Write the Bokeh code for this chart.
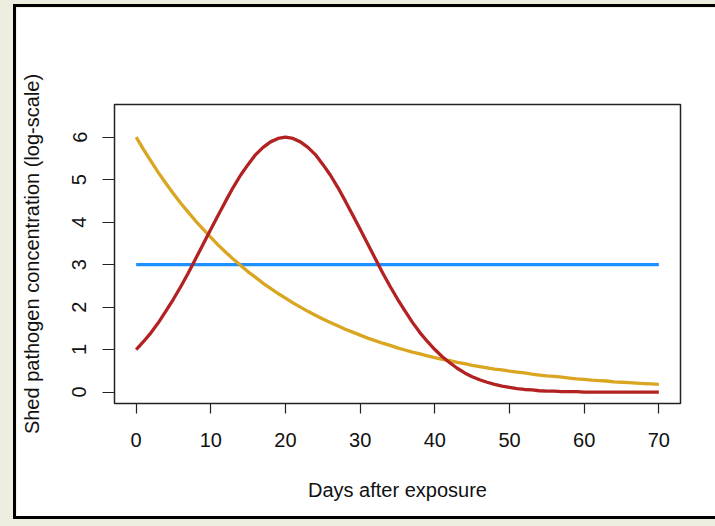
from bokeh.plotting import figure
from bokeh.models import Range1d, FixedTicker
from bokeh.embed import file_html
from bokeh.resources import INLINE

# ---- data ----
days = list(range(0, 71))
shed_peak = [1.00, 1.19, 1.40, 1.64, 1.91, 2.19, 2.49, 2.81, 3.15, 3.49,
             3.83, 4.17, 4.50, 4.82, 5.11, 5.36, 5.59, 5.76, 5.89, 5.97,
             6.00, 5.97, 5.89, 5.76, 5.59, 5.36, 5.11, 4.82, 4.50, 4.17,
             3.83, 3.49, 3.15, 2.81, 2.49, 2.19, 1.91, 1.64, 1.40, 1.19,
             1.00, 0.83, 0.69, 0.56, 0.45, 0.36, 0.29, 0.23, 0.18, 0.14,
             0.11, 0.08, 0.06, 0.05, 0.03, 0.02, 0.02, 0.01, 0.01, 0.01,
             0.00, 0.00, 0.00, 0.00, 0.00, 0.00, 0.00, 0.00, 0.00, 0.00,
             0.00]
shed_decay = [6.00, 5.71, 5.43, 5.16, 4.91, 4.67, 4.44, 4.23, 4.02, 3.83,
              3.64, 3.46, 3.29, 3.13, 2.98, 2.83, 2.70, 2.56, 2.44, 2.32,
              2.21, 2.10, 2.00, 1.90, 1.81, 1.72, 1.64, 1.56, 1.48, 1.41,
              1.34, 1.27, 1.21, 1.15, 1.10, 1.04, 0.99, 0.94, 0.90, 0.85,
              0.81, 0.77, 0.74, 0.70, 0.67, 0.63, 0.60, 0.57, 0.54, 0.52,
              0.49, 0.47, 0.45, 0.42, 0.40, 0.38, 0.37, 0.35, 0.33, 0.31,
              0.30, 0.28, 0.27, 0.26, 0.24, 0.23, 0.22, 0.21, 0.20, 0.19,
              0.18]
shed_constant = [3.0] * len(days)
x_ticks = [0, 10, 20, 30, 40, 50, 60, 70]
y_ticks = [0, 1, 2, 3, 4, 5, 6]

FONT = "Liberation Sans"

p = figure(width=702, height=515, output_backend="svg", toolbar_location=None,
           x_range=Range1d(-2.9, 72.9), y_range=Range1d(-0.27, 6.77),
           min_border_left=98, min_border_right=38,
           min_border_top=97, min_border_bottom=119)

p.styles = {"margin-left": "13px", "margin-top": "4px",
            "border-left": "3px solid black", "border-top": "3px solid black",
            "border-bottom": "3px solid black"}

p.background_fill_color = "white"
p.border_fill_color = "white"
p.outline_line_color = "#222222"
p.outline_line_width = 1.5
p.xgrid.grid_line_color = None
p.ygrid.grid_line_color = None

p.line(days, shed_constant, line_color="#1E90FF", line_width=3.3)
p.line(days, shed_decay, line_color="#DAA520", line_width=3.3)
p.line(days, shed_peak, line_color="#B22222", line_width=3.3)

for ax in (p.xaxis[0], p.yaxis[0]):
    ax.axis_line_color = None
    ax.major_tick_line_color = "#222222"
    ax.major_tick_line_width = 1.2
    ax.major_tick_in = 0
    ax.minor_tick_line_color = None
    ax.major_label_text_font = FONT
    ax.major_label_text_font_size = "20px"
    ax.major_label_text_color = "#111111"
    ax.axis_label_text_font = FONT
    ax.axis_label_text_font_size = "20px"
    ax.axis_label_text_font_style = "normal"
    ax.axis_label_text_color = "#111111"

p.xaxis.ticker = FixedTicker(ticks=x_ticks)
p.yaxis.ticker = FixedTicker(ticks=y_ticks)
p.xaxis.major_tick_out = 10
p.yaxis.major_tick_out = 12
p.xaxis.major_label_standoff = 19
p.yaxis.major_label_standoff = 16
p.yaxis.major_label_orientation = "vertical"
p.xaxis.axis_label = "Days after exposure"
p.yaxis.axis_label = "Shed pathogen concentration (log-scale)"
p.xaxis.axis_label_standoff = 29
p.yaxis.axis_label_standoff = 27

html = file_html(p, INLINE)
html = html.replace("</head>", "<style>html, body { background: #EFECE0; }</style></head>", 1)
open("out.html", "w").write(html)
